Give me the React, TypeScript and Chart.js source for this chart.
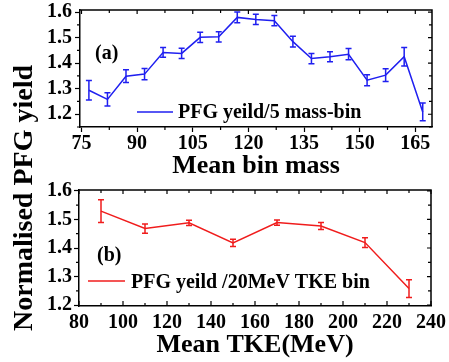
import React, { useEffect, useRef } from 'react';
import { Chart, registerables } from 'chart.js';
Chart.register(...registerables);

// ---- data ----
const massBins = [77, 82, 87, 92, 97, 102, 107, 112, 117, 122, 127, 132, 137, 142, 147, 152, 157, 162, 167];
const massYield = [1.294, 1.258, 1.349, 1.357, 1.442, 1.438, 1.501, 1.503, 1.579, 1.571, 1.566, 1.484, 1.418, 1.425, 1.435, 1.333, 1.353, 1.425, 1.209];
const massErr = [0.038, 0.026, 0.025, 0.022, 0.019, 0.02, 0.02, 0.02, 0.021, 0.02, 0.02, 0.021, 0.02, 0.02, 0.022, 0.022, 0.025, 0.036, 0.035];

const tkeBins = [90, 110, 130, 150, 170, 190, 210, 230];
const tkeYield = [1.529, 1.468, 1.488, 1.418, 1.489, 1.477, 1.419, 1.258];
const tkeErr = [0.04, 0.016, 0.009, 0.013, 0.009, 0.012, 0.017, 0.031];

const massTicks = [75, 90, 105, 120, 135, 150, 165];
const tkeTicks = [80, 100, 120, 140, 160, 180, 200, 220, 240];
const yieldTicks = [1.2, 1.3, 1.4, 1.5, 1.6];

const massLabel = 'PFG yeild/5 mass-bin';
const tkeLabel = 'PFG yeild /20MeV TKE bin';
const yTitle = 'Normalised PFG yield';

const FAMILY = '"Liberation Serif", "Times New Roman", serif';
const BLUE = '#1f1ff0';
const RED = '#f01c1c';

const decor = {
  id: 'decor',
  afterDatasetsDraw(chart: any, _args: any, opts: any) {
    const ctx = chart.ctx;
    const xs = chart.scales.x;
    const ys = chart.scales.y;
    const ca = chart.chartArea;
    const ds = chart.data.datasets[0];
    ctx.save();
    // error bars
    ctx.strokeStyle = ds.borderColor;
    ctx.lineWidth = 1.5;
    ds.data.forEach((p: any, i: number) => {
      const px = xs.getPixelForValue(p.x);
      const y1 = ys.getPixelForValue(p.y - opts.err[i]);
      const y2 = ys.getPixelForValue(p.y + opts.err[i]);
      ctx.beginPath();
      ctx.moveTo(px, y1); ctx.lineTo(px, y2);
      ctx.moveTo(px - 3, y1); ctx.lineTo(px + 3, y1);
      ctx.moveTo(px - 3, y2); ctx.lineTo(px + 3, y2);
      ctx.stroke();
    });
    // frame
    ctx.strokeStyle = '#000';
    ctx.lineWidth = 1.5;
    ctx.beginPath();
    ctx.moveTo(ca.left, ca.top); ctx.lineTo(ca.right, ca.top); ctx.lineTo(ca.right, ca.bottom);
    ctx.stroke();
    // ticks
    ctx.lineWidth = 1.2;
    ctx.beginPath();
    const xMajor = xs.ticks.map((t: any) => t.value);
    const yMajor = ys.ticks.map((t: any) => t.value);
    const xStep = opts.xMinor;
    const yStep = opts.yMinor;
    const xv: number[] = [];
    for (let v = xMajor[0]; v <= xs.max + 1e-9; v += xStep) xv.push(v);
    const yv: number[] = [];
    for (let v = yMajor[0] - yStep; v <= ys.max + 1e-9; v += yStep) if (v >= ys.min) yv.push(v);
    const isMajor = (arr: number[], v: number) => arr.some((m) => Math.abs(m - v) < 1e-6);
    xv.forEach((v) => {
      const px = xs.getPixelForValue(v);
      const major = isMajor(xMajor, v);
      if (opts.bottomInward) {
        ctx.moveTo(px, ca.bottom); ctx.lineTo(px, ca.bottom - (major ? 5 : 3));
      } else if (!major) {
        ctx.moveTo(px, ca.bottom); ctx.lineTo(px, ca.bottom + 3);
      }
      ctx.moveTo(px, ca.top); ctx.lineTo(px, ca.top + (major ? 4 : 3));
    });
    yv.forEach((v) => {
      const py = ys.getPixelForValue(v);
      const major = isMajor(yMajor, v);
      if (!major) { ctx.moveTo(ca.left, py); ctx.lineTo(ca.left - 3, py); }
      ctx.moveTo(ca.right, py); ctx.lineTo(ca.right - (major ? 4 : 3), py);
    });
    ctx.stroke();
    // legend
    const lg = opts.legend;
    ctx.strokeStyle = ds.borderColor;
    ctx.lineWidth = 1.5;
    ctx.beginPath();
    ctx.moveTo(lg.x1, lg.y); ctx.lineTo(lg.x2, lg.y);
    ctx.stroke();
    ctx.fillStyle = '#000';
    ctx.font = `bold 20px ${FAMILY}`;
    ctx.textAlign = 'left';
    ctx.textBaseline = 'alphabetic';
    ctx.fillText(ds.label, lg.tx, lg.ty);
    // panel label
    ctx.fillText(opts.panel.text, opts.panel.x, opts.panel.y);
    // overall y title
    if (opts.yTitle) {
      ctx.font = `bold 28px ${FAMILY}`;
      ctx.translate(opts.yTitle.x, opts.yTitle.y);
      ctx.rotate(-Math.PI / 2);
      ctx.textAlign = 'center';
      ctx.textBaseline = 'middle';
      ctx.fillText(opts.yTitle.text, 0, 0);
    }
    ctx.restore();
  },
};

function makeScales(xmin: number, xmax: number, xt: number[], ymin: number, ymax: number, yw: number, xh: number, title: string, ypad: number, xTickColor: string) {
  const tickFont = { family: FAMILY, size: 20, weight: 'bold' as const };
  return {
    x: {
      type: 'linear' as const,
      min: xmin,
      max: xmax,
      afterBuildTicks: (s: any) => { s.ticks = xt.map((v) => ({ value: v })); },
      afterFit: (s: any) => { s.height = xh; s.paddingLeft = 0; s.paddingRight = 0; },
      grid: { drawOnChartArea: false, tickLength: 5, tickColor: xTickColor, tickWidth: 1.2 },
      border: { color: '#000', width: 1.5 },
      ticks: { font: tickFont, color: '#000', padding: 0, maxRotation: 0, autoSkip: false, callback: (v: any) => String(v) },
      title: { display: true, text: title, color: '#000', font: { family: FAMILY, size: 26, weight: 'bold' as const }, padding: 0 },
    },
    y: {
      type: 'linear' as const,
      min: ymin,
      max: ymax,
      afterBuildTicks: (s: any) => { s.ticks = yieldTicks.map((v) => ({ value: v })); },
      afterFit: (s: any) => { s.width = yw; s.paddingTop = 0; s.paddingBottom = 0; },
      grid: { drawOnChartArea: false, tickLength: 5, tickColor: '#000', tickWidth: 1.2 },
      border: { color: '#000', width: 1.5 },
      ticks: { font: tickFont, color: '#000', padding: ypad, callback: (v: any) => Number(v).toFixed(1) },
    },
  };
}

export default function App() {
  const refA = useRef<HTMLCanvasElement>(null);
  const refB = useRef<HTMLCanvasElement>(null);

  useEffect(() => {
    const a = new Chart(refA.current!, {
      type: 'line',
      data: {
        datasets: [{
          label: massLabel,
          data: massBins.map((x, i) => ({ x, y: massYield[i] })),
          borderColor: BLUE,
          borderWidth: 1.5,
          pointRadius: 0,
          tension: 0,
        }],
      },
      options: {
        animation: false,
        responsive: false,
        maintainAspectRatio: false,
        layout: { padding: { left: 0, right: 17, top: 10, bottom: 180 } },
        plugins: {
          legend: { display: false },
          tooltip: { enabled: false },
          decor: {
            err: massErr, xMinor: 7.5, yMinor: 0.05, bottomInward: false,
            legend: { x1: 137, x2: 173, y: 112, tx: 178, ty: 118 },
            panel: { text: '(a)', x: 95, y: 59 },
            yTitle: { text: yTitle, x: 25, y: 198 },
          },
        } as any,
        scales: makeScales(74.6, 169.5, massTicks, 1.15, 1.608, 80, 55, 'Mean bin mass', 3, '#000') as any,
      },
      plugins: [decor],
    });
    const b = new Chart(refB.current!, {
      type: 'line',
      data: {
        datasets: [{
          label: tkeLabel,
          data: tkeBins.map((x, i) => ({ x, y: tkeYield[i] })),
          borderColor: RED,
          borderWidth: 1.5,
          pointRadius: 0,
          tension: 0,
        }],
      },
      options: {
        animation: false,
        responsive: false,
        maintainAspectRatio: false,
        layout: { padding: { left: 0, right: 18, top: 10, bottom: 1 } },
        plugins: {
          legend: { display: false },
          tooltip: { enabled: false },
          decor: {
            err: tkeErr, xMinor: 10, yMinor: 0.05, bottomInward: true,
            legend: { x1: 88, x2: 125, y: 101, tx: 131, ty: 108 },
            panel: { text: '(b)', x: 97, y: 81 },
          },
        } as any,
        scales: makeScales(80, 240, tkeTicks, 1.197, 1.603, 79, 55, 'Mean TKE(MeV)', 2, 'rgba(0,0,0,0)') as any,
      },
      plugins: [decor],
    });
    return () => { a.destroy(); b.destroy(); };
  }, []);

  return (
    <div style={{ position: 'absolute', left: 0, top: 0, width: 449, height: 362, background: '#fff' }}>
      <canvas ref={refA} width={449} height={362} style={{ position: 'absolute', left: 0, top: 0, width: 449, height: 362 }} />
      <canvas ref={refB} width={449} height={182} style={{ position: 'absolute', left: 0, top: 180, width: 449, height: 182 }} />
    </div>
  );
}
